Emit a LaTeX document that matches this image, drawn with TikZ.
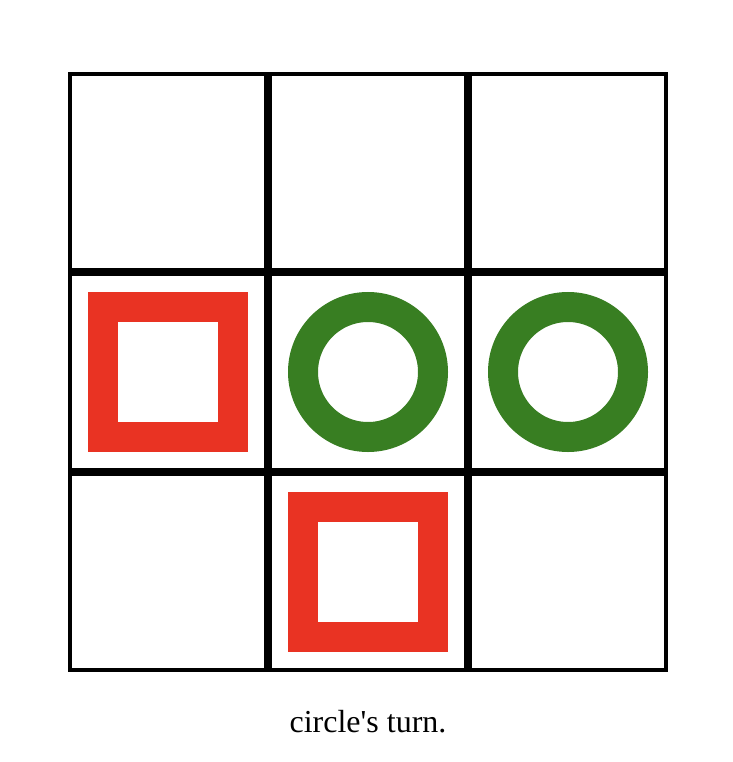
\documentclass[tikz,border=0pt]{standalone}
\usepackage{fontspec}
\setmainfont{Liberation Serif}[Ligatures=TeXOff]
\definecolor{sqred}{RGB}{233,51,35}
\definecolor{cigreen}{RGB}{56,126,34}
\tikzset{
	cellbox/.style = {draw = black, line width = 4pt},
	sqmark/.style = {draw = sqred, line width = 30pt},
	cimark/.style = {draw = cigreen, line width = 30pt}
}

\begin{document}
\begin{tikzpicture} [x = 1pt, y = -1pt]
	\useasboundingbox (0,0) rectangle (732,762);
	
	% the board, one box per cell
	\foreach \i in {0,1,2} {
		\foreach \j in {0,1,2} {
			\draw [cellbox] (68+200*\i+2,72+200*\j+2) rectangle (68+200*\i+198,72+200*\j+198);
		}
	}
	
	% squares
	\draw [sqmark] (103,307) rectangle (233,437);
	\draw [sqmark] (303,507) rectangle (433,637);
	
	% circles
	\draw [cimark] (368,372) circle (65pt);
	\draw [cimark] (568,372) circle (65pt);
	
	\node [anchor = base, font = \fontsize{32}{38}\selectfont] (turn) at (368,732) {circle's turn.};
\end{tikzpicture}
\end{document}
